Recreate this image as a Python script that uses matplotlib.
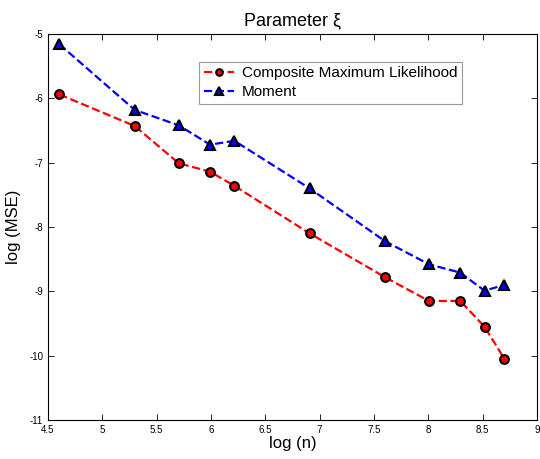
import matplotlib
matplotlib.use("Agg")
import matplotlib.pyplot as plt

plt.rcParams['font.family'] = ['Liberation Sans', 'DejaVu Sans']

log_n = [4.605, 5.298, 5.704, 5.991, 6.215, 6.908, 7.601, 8.006, 8.294, 8.517, 8.700]
cml = [-5.94, -6.43, -7.01, -7.14, -7.36, -8.10, -8.78, -9.15, -9.15, -9.55, -10.05]
moment = [-5.16, -6.18, -6.42, -6.72, -6.66, -7.40, -8.22, -8.58, -8.71, -8.99, -8.90]
xticks = [4.5, 5, 5.5, 6, 6.5, 7, 7.5, 8, 8.5, 9]
yticks = [-11, -10, -9, -8, -7, -6, -5]

fig = plt.figure(figsize=(5.4, 4.59), dpi=100)
ax = fig.add_axes([48/540, 1-420/459, 489/540, 386/459])

ax.plot(log_n, cml, '--o', color='red', lw=1.6, ms=6.3, mfc='red', mec='black', mew=1.5,
        label='Composite Maximum Likelihood')
ax.plot(log_n, moment, '--^', color='blue', lw=1.6, ms=7.2, mfc='blue', mec='black', mew=1.5,
        label='Moment')

ax.set_xlim(4.5, 9)
ax.set_ylim(-11, -5)
ax.set_xticks(xticks)
ax.set_xticklabels([f'{t:g}' for t in xticks])
ax.set_yticks(yticks)
ax.set_yticklabels([f'{t:g}' for t in yticks])
ax.tick_params(direction='in', top=True, right=True, labelsize=7, length=4, width=0.6)
for s in ax.spines.values():
    s.set_linewidth(0.8)

ax.set_title('Parameter ξ', fontsize=13, pad=6)
ax.set_xlabel('log (n)', fontsize=12, labelpad=1)
ax.set_ylabel('log (MSE)', fontsize=12, labelpad=6)

leg = ax.legend(loc='upper left', bbox_to_anchor=(0.309, 0.928), fontsize=11,
                frameon=True, fancybox=False, edgecolor='#808080', handlelength=2.0,
                borderpad=0.3, labelspacing=0.3, handletextpad=0.5, borderaxespad=0,
                markerscale=0.75)
leg.get_frame().set_linewidth(0.8)

fig.savefig('out.png', dpi=100)
